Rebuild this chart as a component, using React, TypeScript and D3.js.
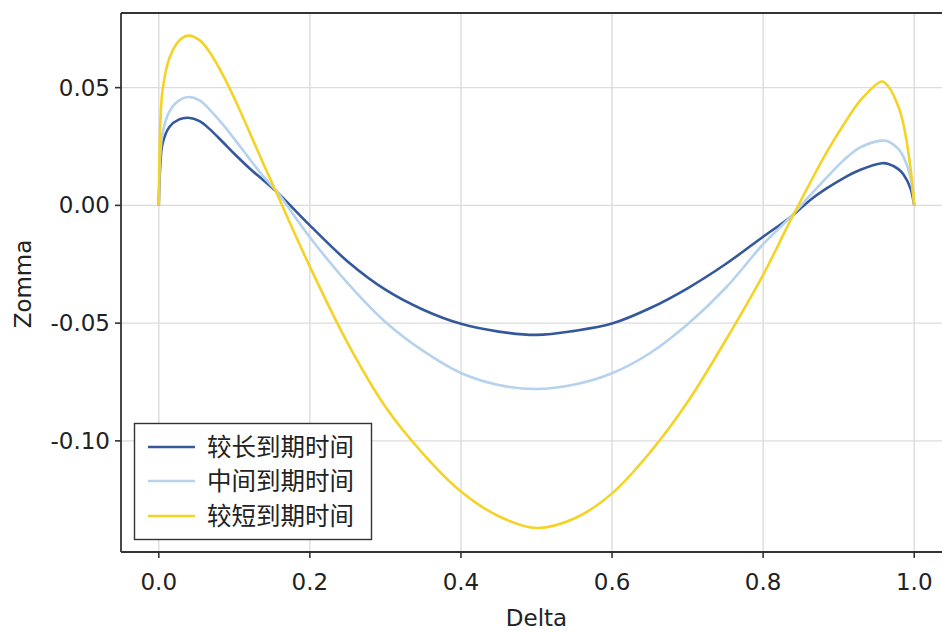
import React from "react";
import * as d3 from "d3";

// Delta grid shared by all three series
const deltas = [
  0, 0.002, 0.005, 0.014, 0.027, 0.039, 0.054, 0.067, 0.085, 0.102, 0.12, 0.138, 0.157,
  0.2, 0.25, 0.3, 0.35, 0.4, 0.45, 0.5, 0.55, 0.6, 0.65, 0.7, 0.75, 0.8,
  0.836, 0.862, 0.884, 0.906, 0.928, 0.957, 0.965, 0.979, 0.986, 0.995, 1.0,
];

// Zomma for the longer time to expiry
const zommaLong = [
  0, 0.017, 0.0262, 0.0333, 0.0365, 0.0372, 0.0358, 0.0325, 0.0268, 0.0213, 0.0158, 0.0108, 0.0055,
  -0.0085, -0.0238, -0.0358, -0.0443, -0.0503, -0.0536, -0.055, -0.0533, -0.0502, -0.0437, -0.0352, -0.025, -0.0133,
  -0.005, 0.0022, 0.0072, 0.0115, 0.015, 0.0179, 0.0177, 0.0154, 0.013, 0.0073, 0,
];

// Zomma for the medium time to expiry
const zommaMid = [
  0, 0.021, 0.0305, 0.0398, 0.0446, 0.046, 0.0446, 0.0408, 0.0343, 0.0274, 0.0198, 0.0124, 0.0055,
  -0.0135, -0.033, -0.0495, -0.0618, -0.0712, -0.0763, -0.078, -0.0761, -0.0713, -0.0628, -0.0505, -0.0352, -0.0165,
  -0.005, 0.0042, 0.0118, 0.019, 0.0245, 0.0275, 0.0272, 0.024, 0.0205, 0.012, 0,
];

// Zomma for the shorter time to expiry
const zommaShort = [
  0, 0.034, 0.049, 0.0625, 0.07, 0.0721, 0.0702, 0.0652, 0.0553, 0.0441, 0.0312, 0.018, 0.0045,
  -0.026, -0.0585, -0.0855, -0.1055, -0.1215, -0.132, -0.137, -0.133, -0.1223, -0.105, -0.0835, -0.0575, -0.0295,
  -0.0065, 0.0095, 0.0225, 0.034, 0.0443, 0.0526, 0.0508, 0.042, 0.034, 0.016, 0,
];

const seriesNames = ["较长到期时间", "中间到期时间", "较短到期时间"];
const seriesColors = ["#34589b", "#b6d2ec", "#f4d326"];

const xTicks = [0, 0.2, 0.4, 0.6, 0.8, 1.0];
const yTicks = [0.05, 0, -0.05, -0.1];

const W = 942;
const H = 632;
const left = 121;
const top = 13;
const bottom = 552;
const right = 952;
const font = "'DejaVu Sans', 'Noto Sans CJK SC', sans-serif";

export default function App() {
  const x = d3.scaleLinear().domain([-0.05, 1.05]).range([left, right]);
  const y = d3.scaleLinear().domain([-0.1472, 0.0817]).range([bottom, top]);

  const line = d3
    .line<[number, number]>()
    .x((d) => x(d[0]))
    .y((d) => y(d[1]))
    .curve(d3.curveCatmullRom.alpha(0.5));

  const series = [zommaLong, zommaMid, zommaShort].map((vals) =>
    deltas.map((d, i) => [d, vals[i]] as [number, number])
  );

  const legX = 134.5;
  const legY = 423.5;
  const legW = 237;
  const legH = 116;
  const rowY = [447, 481, 516];

  return (
    <svg
      width={W}
      height={H}
      style={{ position: "absolute", left: 0, top: 0, background: "#fff" }}
      fontFamily={font}
    >
      <defs>
        <clipPath id="plot">
          <rect x={left} y={top} width={right - left} height={bottom - top} />
        </clipPath>
      </defs>

      {/* grid */}
      <g stroke="#dcdcdc" strokeWidth={1.4}>
        {xTicks.map((t) => (
          <line key={"gx" + t} x1={x(t)} x2={x(t)} y1={top} y2={bottom} />
        ))}
        {yTicks.map((t) => (
          <line key={"gy" + t} x1={left} x2={right} y1={y(t)} y2={y(t)} />
        ))}
      </g>

      {/* curves */}
      <g clipPath="url(#plot)" fill="none" strokeWidth={2.6} strokeLinejoin="round">
        {series.map((s, i) => (
          <path key={i} d={line(s) || ""} stroke={seriesColors[i]} />
        ))}
      </g>

      {/* spines */}
      <g stroke="#333" strokeWidth={1.8} fill="none">
        <line x1={left} x2={left} y1={top} y2={bottom} />
        <line x1={left} x2={right} y1={bottom} y2={bottom} />
        <line x1={left} x2={right} y1={top} y2={top} />
      </g>

      {/* x ticks */}
      <g>
        {xTicks.map((t) => (
          <g key={"xt" + t}>
            <line x1={x(t)} x2={x(t)} y1={bottom} y2={bottom + 6} stroke="#333" strokeWidth={1.6} />
            <text x={x(t)} y={bottom + 38} textAnchor="middle" fontSize={23} fill="#222">
              {t.toFixed(1)}
            </text>
          </g>
        ))}
      </g>

      {/* y ticks */}
      <g>
        {yTicks.map((t) => (
          <g key={"yt" + t}>
            <line x1={left - 6} x2={left} y1={y(t)} y2={y(t)} stroke="#333" strokeWidth={1.6} />
            <text x={left - 11} y={y(t) + 8} textAnchor="end" fontSize={23} fill="#222">
              {t.toFixed(2)}
            </text>
          </g>
        ))}
      </g>

      {/* axis labels */}
      <text x={x(0.5)} y={626} textAnchor="middle" fontSize={23} fill="#222">
        Delta
      </text>
      <text
        transform={`translate(31, 284) rotate(-90)`}
        textAnchor="middle"
        fontSize={23}
        fill="#222"
      >
        Zomma
      </text>

      {/* legend */}
      <g>
        <rect x={legX} y={legY} width={legW} height={legH} fill="#fff" stroke="#333" strokeWidth={1.4} />
        {seriesNames.map((name, i) => (
          <g key={name}>
            <line x1={148} x2={195} y1={rowY[i]} y2={rowY[i]} stroke={seriesColors[i]} strokeWidth={2.6} />
            <text x={207} y={rowY[i] + 8.5} fontSize={24.5} fill="#222">
              {name}
            </text>
          </g>
        ))}
      </g>
    </svg>
  );
}
